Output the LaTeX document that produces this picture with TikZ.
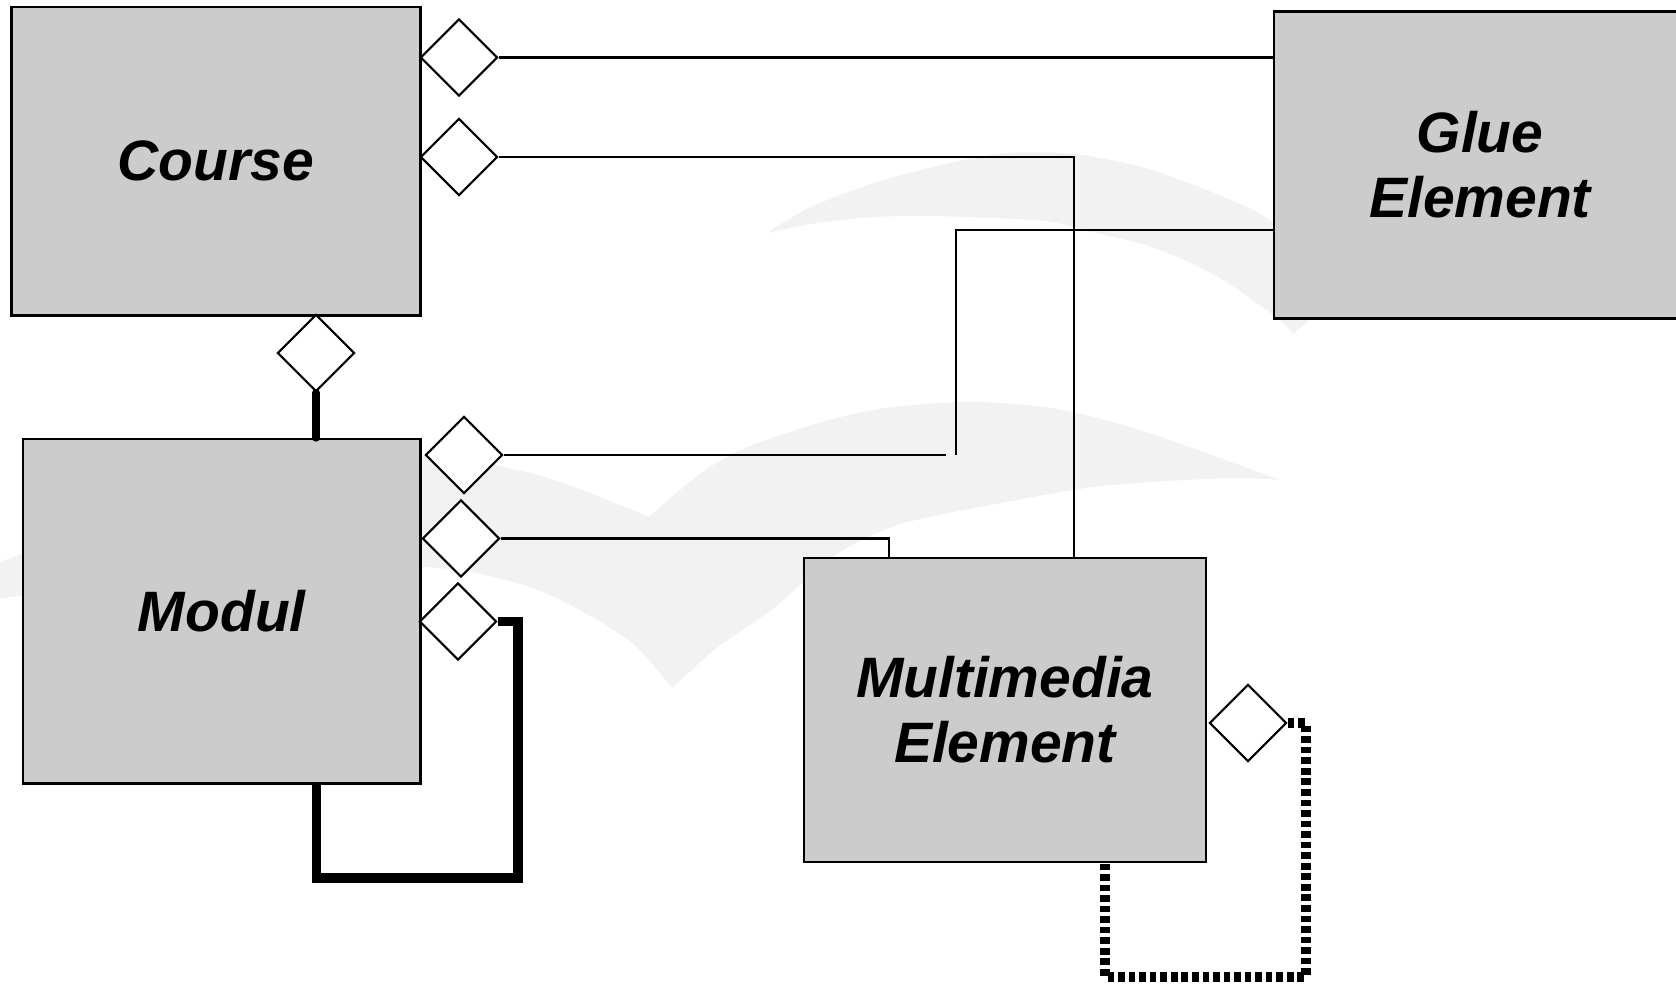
\documentclass[tikz,border=0pt]{standalone}
\usepackage{fontspec}
\setmainfont{Liberation Sans}
\usetikzlibrary{shapes.geometric}
\definecolor{boxgray}{HTML}{CCCCCC}
\definecolor{wmgray}{HTML}{F2F2F2}

\begin{document}
\begin{tikzpicture}[x=0.01cm,y=-0.01cm]
\tikzset{
  classbox/.style={rectangle,draw,line width=0.65pt,fill=boxgray,inner sep=0pt,align=center,
    font=\bfseries\itshape\fontsize{16.2}{18.5}\selectfont},
  aggdiamond/.style={diamond,draw,line width=0.6pt,fill=white,inner sep=0pt,minimum width=7.7mm,minimum height=7.7mm},
  assoc/.style={line width=0.65pt},
  heavy/.style={line width=2pt,line cap=round},
  heavyloop/.style={line width=2.6pt},
  dottedloop/.style={line width=2.6pt,dash pattern=on 1.9pt off 1.1pt},
  wmark/.style={fill=wmgray}
}
\useasboundingbox (0,0) rectangle (1676,986);
\fill[white] (0,0) rectangle (1676,986);
% watermark swooshes
\fill[wmark] plot[smooth] coordinates {(767,233) (809,208) (874,183) (950,163) (1008,153) (1073,154) (1142,167) (1199,187) (1249,208) (1275,224) (1310,250) (1325,290) (1310,318) (1293,334)}
  -- plot[smooth] coordinates {(1293,334) (1276,317) (1218,277) (1155,248) (1084,230) (1046,221) (989,218) (931,216) (874,217) (817,223) (767,233)} -- cycle;
\fill[wmark] plot[smooth] coordinates {(-10,565) (200,500) (420,457) (517,470) (574,487) (649,517)}
  -- plot[smooth] coordinates {(649,517) (700,474) (745,448) (812,425) (879,409) (968,402) (1057,409) (1146,432) (1280,480)}
  -- plot[smooth] coordinates {(1280,480) (1227,478) (1102,486) (1012,501) (901,524) (834,556) (775,607) (718,647) (672,688)}
  -- plot[smooth] coordinates {(672,688) (632,643) (574,607) (517,583) (422,567) (200,572) (-10,600)} -- cycle;

\node[classbox,minimum width=40.9mm,minimum height=30.8mm] (n_course) at (216,161.4) {Course};
\node[classbox,minimum width=41.2mm,minimum height=30.7mm] (n_glue) at (1480,165) {Glue\\Element};
\node[classbox,minimum width=39.7mm,minimum height=34.4mm] (n_modul) at (221.8,611.4) {Modul};
\node[classbox,minimum width=40.2mm,minimum height=30.4mm] (n_media) at (1004.8,709.8) {Multimedia\\Element};

\node[aggdiamond] (d_c1) at (459,57.5) {};
\node[aggdiamond] (d_c2) at (459,157) {};
\node[aggdiamond] (d_c3) at (316,353) {};
\node[aggdiamond] (d_m1) at (464,455) {};
\node[aggdiamond] (d_m2) at (461,538.5) {};
\node[aggdiamond] (d_m3) at (458,621.5) {};
\node[aggdiamond] (d_e) at (1248,723) {};

\coordinate (c_media1) at (1074,558);
\coordinate (c_media2) at (889,558);
\coordinate (c_jl) at (946,455);
\coordinate (c_jr) at (956,455);
\coordinate (c_glue2) at (1274,230);
\coordinate (c_loopa) at (518,878);
\coordinate (c_loopb) at (316.5,783.5);
\coordinate (c_selfa) at (1306,977);
\coordinate (c_selfb) at (1105,861.5);

\draw[assoc] (d_c1.east) -- (d_c1.east -| n_glue.west);
\draw[assoc] (d_c2.east) -| (c_media1);
\draw[assoc] (d_m1.east) -- (c_jl);
\draw[assoc] (c_jr) |- (c_glue2);
\draw[assoc] (d_m2.east) -| (c_media2);
\draw[heavy] (d_c3.south) -- (d_c3.south |- n_modul.north);
\draw[heavyloop] (d_m3.east) -| (c_loopa) -| (c_loopb);
\draw[dottedloop] (d_e.east) -| (c_selfa) -| (c_selfb);
\end{tikzpicture}
\end{document}
